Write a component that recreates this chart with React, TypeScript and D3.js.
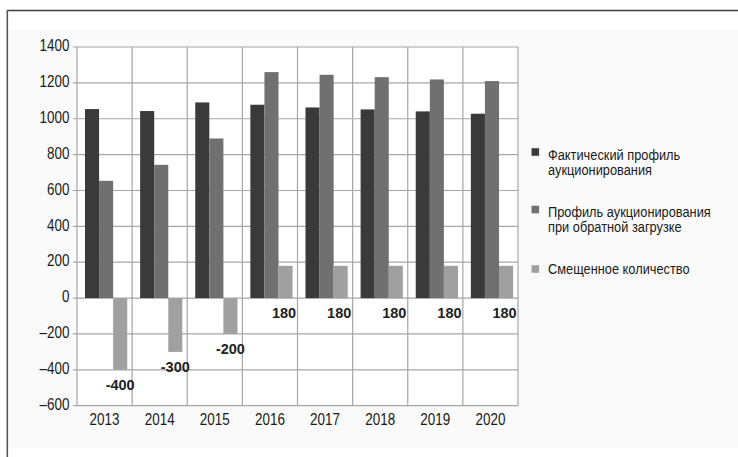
import React from "react";
import * as d3 from "d3";

const categories = ["2013", "2014", "2015", "2016", "2017", "2018", "2019", "2020"];
const actualProfile = [1054, 1043, 1091, 1078, 1063, 1052, 1041, 1028];
const backloadedProfile = [654, 743, 890, 1260, 1245, 1232, 1219, 1210];
const shiftedVolume = [-400, -300, -200, 180, 180, 180, 180, 180];
const yTicks = [1400, 1200, 1000, 800, 600, 400, 200, 0, -200, -400, -600];
const seriesNames = [
  ["Фактический профиль", "аукционирования"],
  ["Профиль аукционирования", "при обратной загрузке"],
  ["Смещенное количество"],
];
const seriesKeys = ["actual", "backloaded", "shifted"];
const seriesColors = ["#3a3a3a", "#707070", "#a0a0a0"];

const W = 738;
const H = 457;
const plot = { left: 77, right: 518, top: 47, bottom: 405.7 };
const FONT = "'Liberation Sans', Arial, sans-serif";

function CText(props: {
  x: number;
  y: number;
  anchor?: "start" | "middle" | "end";
  size: number;
  sx: number;
  children: React.ReactNode;
}) {
  return (
    <text
      transform={`translate(${props.x},${props.y}) scale(${props.sx},1)`}
      textAnchor={props.anchor || "start"}
      fontSize={props.size}
      fontFamily={FONT}
      fill="#1a1a1a"
    >
      {props.children}
    </text>
  );
}

export default function App() {
  const y = d3.scaleLinear().domain([-600, 1400]).range([plot.bottom, plot.top]);
  const x = d3.scaleBand().domain(categories).range([plot.left, plot.right]).padding(0);
  const bw = x.bandwidth();
  const x1 = d3.scaleBand().domain(seriesKeys).range([bw * 0.145, bw * 0.911]).padding(0);
  const values = [actualProfile, backloadedProfile, shiftedVolume];

  const fmt = (v: number) => (v < 0 ? "\u2013" + Math.abs(v) : String(v));

  return (
    <svg
      width={W}
      height={H}
      style={{ position: "absolute", left: 0, top: 0, background: "#fff" }}
    >
      <rect x={0} y={0} width={W} height={H} fill="#ffffff" />
      <rect x={8} y={30} width={W - 8} height={418} fill="#fafafa" />
      <rect x={plot.left} y={plot.top} width={plot.right - plot.left} height={plot.bottom - plot.top} fill="#ffffff" />
      {/* frame */}
      <line x1={7} x2={W} y1={10.5} y2={10.5} stroke="#3c3c3c" strokeWidth={1.6} />
      <line x1={7.3} x2={7.3} y1={10} y2={H} stroke="#555" strokeWidth={1.6} />

      {/* horizontal gridlines + ticks */}
      {yTicks.map((t) => (
        <g key={t}>
          <line x1={plot.left - 4} x2={plot.right} y1={y(t)} y2={y(t)} stroke="#a6a6a6" strokeWidth={1.2} />
          <CText x={69.5} y={y(t) + 4.2} anchor="end" size={16} sx={0.84}>
            {fmt(t)}
          </CText>
        </g>
      ))}
      {/* vertical gridlines */}
      {[...categories.map((c) => x(c) as number), plot.right].map((vx, i) => (
        <line key={i} x1={vx} x2={vx} y1={plot.top} y2={plot.bottom} stroke="#a6a6a6" strokeWidth={1.2} />
      ))}

      {/* bars */}
      {categories.map((c, ci) => (
        <g key={c} transform={`translate(${x(c)},0)`}>
          {seriesKeys.map((k, si) => {
            const v = values[si][ci];
            return (
              <rect
                key={k}
                x={x1(k)}
                y={y(Math.max(v, 0))}
                width={x1.bandwidth()}
                height={Math.abs(y(v) - y(0))}
                fill={seriesColors[si]}
              />
            );
          })}
          <text
            x={(x1("shifted") as number) + x1.bandwidth() / 2 - (shiftedVolume[ci] > 0 ? 1.5 : 0)}
            y={y(Math.min(shiftedVolume[ci], 0)) + 20}
            textAnchor="middle"
            fontFamily={FONT}
            fontWeight="bold"
            fontSize={14.5}
            fill="#222"
          >
            {shiftedVolume[ci]}
          </text>
          <CText x={bw / 2} y={425} anchor="middle" size={16} sx={0.84}>
            {c}
          </CText>
        </g>
      ))}

      {/* legend */}
      {[
        { sq: 152, base: 160 },
        { sq: 209.5, base: 216.7 },
        { sq: 269, base: 274.3 },
      ].map((l, i) => (
        <g key={i}>
          <rect x={531.5} y={l.sq - 3.8} width={7.6} height={7.6} fill={seriesColors[i]} />
          {seriesNames[i].map((s, j) => (
            <CText key={j} x={548} y={l.base + j * 15.2} size={14.6} sx={0.878}>
              {s}
            </CText>
          ))}
        </g>
      ))}
    </svg>
  );
}
